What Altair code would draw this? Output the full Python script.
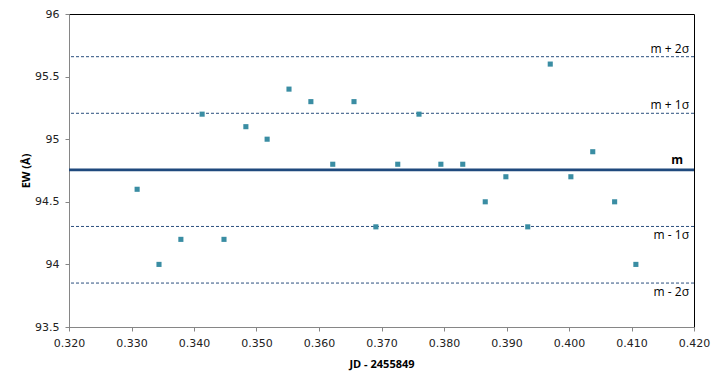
import altair as alt
import pandas as pd

jd = [0.3309, 0.3344, 0.3379, 0.3413, 0.3448, 0.3483, 0.3517, 0.3552, 0.3587, 0.3622,
      0.3656, 0.3691, 0.3726, 0.3760, 0.3795, 0.3830, 0.3866, 0.3899, 0.3934, 0.3970,
      0.4003, 0.4038, 0.4073, 0.4107]
ew = [94.6, 94.0, 94.2, 95.2, 94.2, 95.1, 95.0, 95.4, 95.3, 94.8,
      95.3, 94.3, 94.8, 95.2, 94.8, 94.8, 94.5, 94.7, 94.3, 95.6,
      94.7, 94.9, 94.5, 94.0]

x_ticks = [0.32, 0.33, 0.34, 0.35, 0.36, 0.37, 0.38, 0.39, 0.40, 0.41, 0.42]
y_ticks = [93.5, 94.0, 94.5, 95.0, 95.5, 96.0]

mean_val = 94.755
sigma = 0.452
band_names = ["m + 2σ", "m + 1σ", "m - 1σ", "m - 2σ"]
band_values = [mean_val + 2 * sigma, mean_val + sigma, mean_val - sigma, mean_val - 2 * sigma]

pts = pd.DataFrame({"jd": jd, "ew": ew})
bands = pd.DataFrame({"name": band_names, "v": band_values})
mean_df = pd.DataFrame({"name": ["m"], "v": [mean_val]})

xs = alt.Scale(domain=[0.32, 0.42], nice=False, zero=False)
ys = alt.Scale(domain=[93.5, 96], nice=False, zero=False)

xaxis = alt.Axis(title="JD - 2455849", format=".3f", values=x_ticks,
                 grid=False, domainColor="#868686", tickColor="#868686", tickSize=4,
                 labelFont="DejaVu Sans", labelFontSize=11, labelColor="#222222", labelPadding=6,
                 labelFlush=False,
                 titleFont="Open Sans", titleFontSize=11, titleFontWeight="bold", titleColor="#000000",
                 titlePadding=10)
yaxis = alt.Axis(title="EW (Å)", values=y_ticks, labelExpr="toString(datum.value)",
                 grid=False, domainColor="#868686", tickColor="#868686", tickSize=4,
                 labelFont="DejaVu Sans", labelFontSize=11, labelColor="#222222", labelPadding=6,
                 labelFlush=False,
                 titleFont="Open Sans", titleFontSize=11, titleFontWeight="bold", titleColor="#000000",
                 titlePadding=3)

points = alt.Chart(pts).mark_point(shape="square", filled=True, size=26, color="#3A8DA3", opacity=1).encode(
    x=alt.X("jd:Q", scale=xs, axis=xaxis),
    y=alt.Y("ew:Q", scale=ys, axis=yaxis),
)

band_rules = alt.Chart(bands).mark_rule(color="#2B4F7E", strokeWidth=1, strokeDash=[3, 2]).encode(
    y=alt.Y("v:Q", scale=ys)
)
mean_rule = alt.Chart(mean_df).mark_rule(color="#1F497D", strokeWidth=2.6).encode(
    y=alt.Y("v:Q", scale=ys)
)

band_text_up = alt.Chart(bands.iloc[:2]).mark_text(align="right", baseline="middle", font="Open Sans",
                                                    fontSize=12, dy=-8, color="#000000").encode(
    x=alt.value(620), y=alt.Y("v:Q", scale=ys), text="name:N")
band_text_dn = alt.Chart(bands.iloc[2:]).mark_text(align="right", baseline="middle", font="Open Sans",
                                                    fontSize=12, dy=9, color="#000000").encode(
    x=alt.value(620), y=alt.Y("v:Q", scale=ys), text="name:N")
mean_text = alt.Chart(mean_df).mark_text(align="right", baseline="middle", font="Open Sans",
                                         fontSize=12, fontWeight="bold", dy=-10, color="#000000").encode(
    x=alt.value(614), y=alt.Y("v:Q", scale=ys), text="name:N")

chart = alt.layer(band_rules, mean_rule, points, band_text_up, band_text_dn, mean_text).properties(
    width=625, height=313,
    autosize=alt.AutoSizeParams(type="none"),
    padding={"left": 61, "top": 6, "right": 20, "bottom": 51},
    background="white",
).configure_view(stroke="#000000", strokeWidth=1)

chart.save("out.html", embed_options={"renderer": "svg", "actions": False})
